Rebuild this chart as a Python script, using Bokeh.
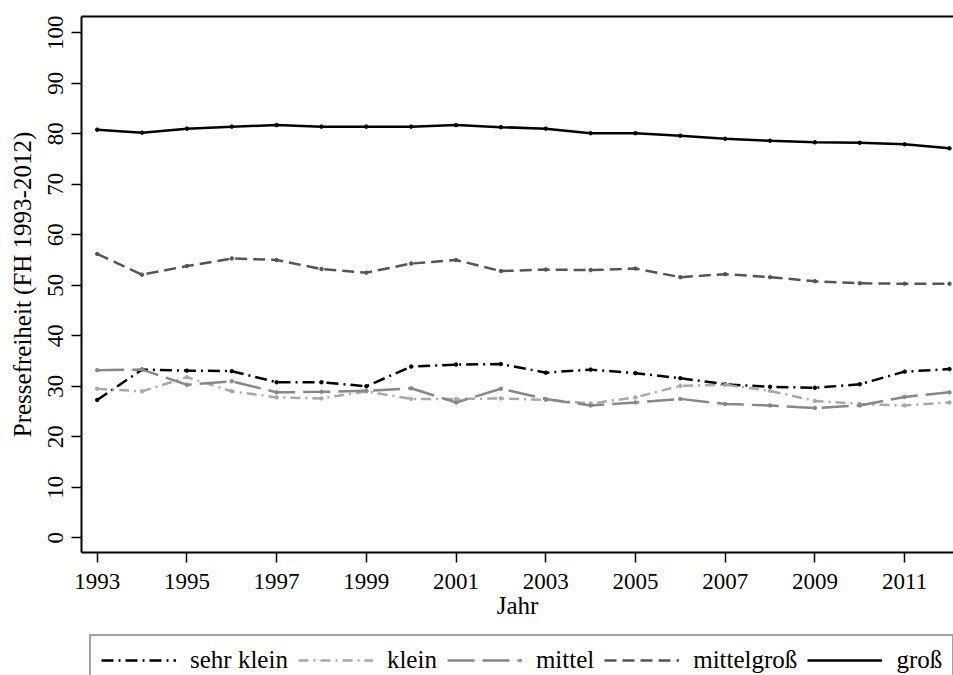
from bokeh.plotting import figure
from bokeh.layouts import column
from bokeh.models import (Range1d, FixedTicker, LinearAxis, Legend, LegendItem)
from bokeh.embed import file_html
from bokeh.resources import INLINE

years = list(range(1993, 2013))
sehr_klein = [27.3, 33.3, 33.1, 33.0, 30.8, 30.8, 30.0, 33.9, 34.3, 34.4,
              32.7, 33.3, 32.6, 31.6, 30.4, 29.9, 29.7, 30.4, 32.9, 33.4]
klein = [29.5, 29.0, 31.8, 29.0, 27.8, 27.6, 29.0, 27.5, 27.5, 27.6,
         27.3, 26.6, 27.8, 30.1, 30.3, 29.1, 27.1, 26.5, 26.2, 26.8]
mittel = [33.2, 33.3, 30.3, 31.0, 28.8, 28.9, 29.1, 29.6, 26.8, 29.5,
          27.5, 26.2, 26.8, 27.5, 26.5, 26.2, 25.7, 26.2, 27.9, 28.8]
mittelgross = [56.2, 52.1, 53.8, 55.3, 55.0, 53.2, 52.5, 54.3, 55.0, 52.8,
               53.1, 53.0, 53.3, 51.6, 52.2, 51.6, 50.8, 50.4, 50.3, 50.3]
gross = [80.8, 80.2, 81.0, 81.4, 81.7, 81.4, 81.4, 81.4, 81.7, 81.3,
         81.0, 80.1, 80.1, 79.6, 79.0, 78.6, 78.3, 78.2, 77.9, 77.1]

labels = ["sehr klein", "klein", "mittel", "mittelgroß", "groß"]
x_ticks = list(range(1993, 2012, 2))
y_ticks = list(range(0, 101, 10))

FONT = "Liberation Serif"

p = figure(width=953, height=626, output_backend="svg", toolbar_location=None,
           x_range=Range1d(1992.65, 2012.09), y_range=Range1d(-2.9, 103.2),
           min_border_left=81, min_border_top=16, min_border_right=0,
           min_border_bottom=74)
p.outline_line_color = None
p.xgrid.visible = False
p.ygrid.visible = False
p.background_fill_color = "white"

for ax in (p.xaxis[0], p.yaxis[0]):
    ax.axis_line_width = 2
    ax.axis_line_color = "black"
    ax.major_tick_line_width = 1.5
    ax.major_tick_out = 10
    ax.major_tick_in = 0
    ax.minor_tick_line_color = None
    ax.major_label_text_font = FONT
    ax.major_label_text_font_size = "23px"
    ax.major_label_text_color = "black"
    ax.axis_label_text_font = FONT
    ax.axis_label_text_font_size = "25px"
    ax.axis_label_text_font_style = "normal"
    ax.axis_label_text_color = "black"

p.xaxis.ticker = FixedTicker(ticks=x_ticks)
p.yaxis.ticker = FixedTicker(ticks=y_ticks)
p.xaxis.axis_label = "Jahr"
p.yaxis.axis_label = "Pressefreiheit (FH 1993-2012)"
p.yaxis.major_label_orientation = "vertical"
p.xaxis.major_label_standoff = 11
p.xaxis.axis_label_standoff = 0
p.yaxis.major_label_standoff = 8
p.yaxis.axis_label_standoff = 10

top = LinearAxis(major_tick_line_color=None, minor_tick_line_color=None,
                 major_tick_out=0, major_tick_in=0, major_label_standoff=0,
                 major_label_text_font_size="0px", axis_line_width=2,
                 ticker=FixedTicker(ticks=[]))
p.add_layout(top, "above")

series = [sehr_klein, klein, mittel, mittelgross, gross]
colors = ["#000000", "#a8a8a8", "#878787", "#555555", "#000000"]
dashes = ["12 5 2 5", "10 5 2 5", "27 8", "12 6", "solid"]

for lab, vals, col, dash in zip(labels, series, colors, dashes):
    p.line(years, vals, line_color=col, line_width=2.5, line_dash=dash)
    p.scatter(years, vals, size=3.5, color=col)

# legend strip below the chart (its lower part is cut off, as in the reference)
lg = figure(width=953, height=49, output_backend="svg", toolbar_location=None,
            x_range=Range1d(0, 1), y_range=Range1d(0, 1),
            min_border_left=0, min_border_right=0, min_border_top=0,
            min_border_bottom=0)
lg.axis.visible = False
lg.grid.visible = False
lg.outline_line_color = None

items = []
for lab, vals, col, dash in zip(labels, series, colors, dashes):
    # same series, outside this strip's visible range: only the legend shows
    r = lg.line(years, vals, line_color=col, line_width=2.5, line_dash=dash)
    items.append(LegendItem(label=lab, renderers=[r]))

legend = Legend(items=items, orientation="horizontal", location="top_left",
                glyph_width=75, glyph_height=28, label_height=28,
                label_standoff=14, spacing=10, padding=10, margin=8,
                label_text_font=FONT, label_text_font_size="25px",
                label_text_color="black", border_line_color="#444444",
                border_line_width=2, background_fill_alpha=1)
lg.add_layout(legend, "center")

layout = column(p, lg, spacing=0)
open("out.html", "w").write(file_html(layout, INLINE))
